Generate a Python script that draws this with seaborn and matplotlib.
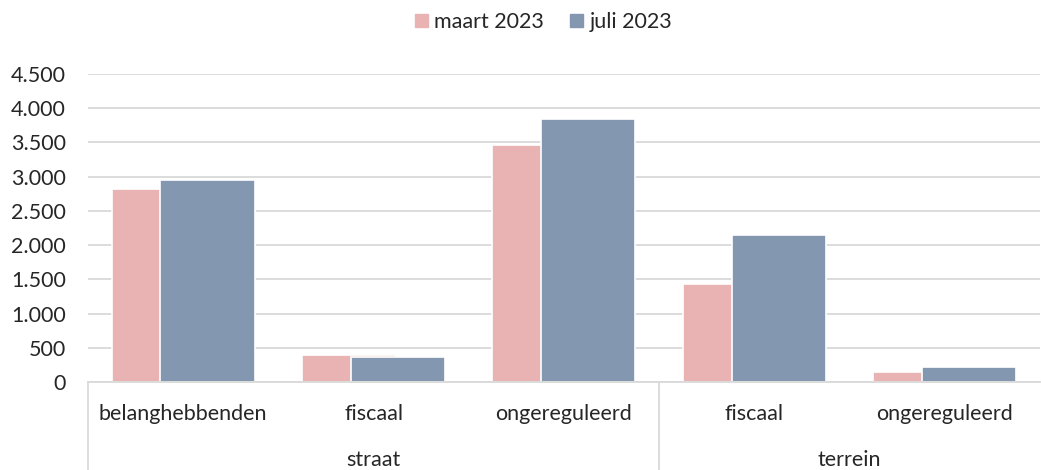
import numpy as np
import pandas as pd
import matplotlib.pyplot as plt
import seaborn as sns

categories = ['belanghebbenden', 'fiscaal', 'ongereguleerd', 'fiscaal', 'ongereguleerd']
groups = ['straat', 'straat', 'straat', 'terrein', 'terrein']
maart_2023 = [2820, 395, 3465, 1435, 150]
juli_2023 = [2950, 365, 3845, 2155, 215]
series_names = ['maart 2023', 'juli 2023']
series_colors = ['#E9B3B3', '#8497B0']

sns.set_style('white')
plt.rcParams['font.family'] = ['Lato', 'DejaVu Sans']
FS = 15.5

pos = np.arange(len(categories))
df = pd.DataFrame({
    'pos': np.concatenate([pos - 0.128, pos + 0.128]),
    'waarde': maart_2023 + juli_2023,
    'reeks': [series_names[0]] * len(pos) + [series_names[1]] * len(pos),
})

fig, ax = plt.subplots(figsize=(10.41, 4.70), dpi=100)
fig.subplots_adjust(left=0.0845, right=0.999, top=0.8426, bottom=0.1872)

for name, col in zip(series_names, series_colors):
    sub = df[df['reeks'] == name]
    sns.barplot(data=sub, x='pos', y='waarde', native_scale=True, width=0.495,
                color=col, saturation=1, edgecolor='white', linewidth=1.2,
                errorbar=None, ax=ax)

ax.set_xlim(-0.5, len(categories) - 0.5)
ax.set_ylim(0, 4500)
ax.set_yticks(np.arange(0, 4501, 500))
ax.set_yticklabels([f'{v:,}'.replace(',', '.') for v in range(0, 4501, 500)], fontsize=FS)
ax.yaxis.grid(True, color='#D9D9D9', linewidth=1.3)
ax.set_axisbelow(True)
ax.tick_params(axis='y', length=0, pad=16)
ax.set_xticks(pos)
ax.set_xticklabels(categories, fontsize=FS)
ax.tick_params(axis='x', length=0, pad=16)
ax.set_xlabel('')
ax.set_ylabel('')

for s in ['top', 'right', 'left']:
    ax.spines[s].set_visible(False)
ax.spines['bottom'].set_color('#D9D9D9')
ax.spines['bottom'].set_linewidth(1.3)

# group separators and group labels
depth = -88 / 308
for xv in [0, 0.6]:
    ax.plot([xv, xv], [0, depth], transform=ax.transAxes, color='#D9D9D9',
            linewidth=1.3, clip_on=False)
trans = ax.get_xaxis_transform()
for g in dict.fromkeys(groups):
    idx = [i for i, gg in enumerate(groups) if gg == g]
    ax.text(np.mean(idx), -78 / 308, g, transform=trans, ha='center', va='center',
            fontsize=FS)

handles = [plt.Rectangle((0, 0), 1, 1, color=c) for c in series_colors]
fig.legend(handles, series_names, loc='center', bbox_to_anchor=(0.522, 0.953), ncol=2,
           frameon=False, fontsize=FS, handlelength=0.6, handleheight=0.6,
           handletextpad=0.3, columnspacing=1.2)

fig.savefig('out.png', dpi=100)
